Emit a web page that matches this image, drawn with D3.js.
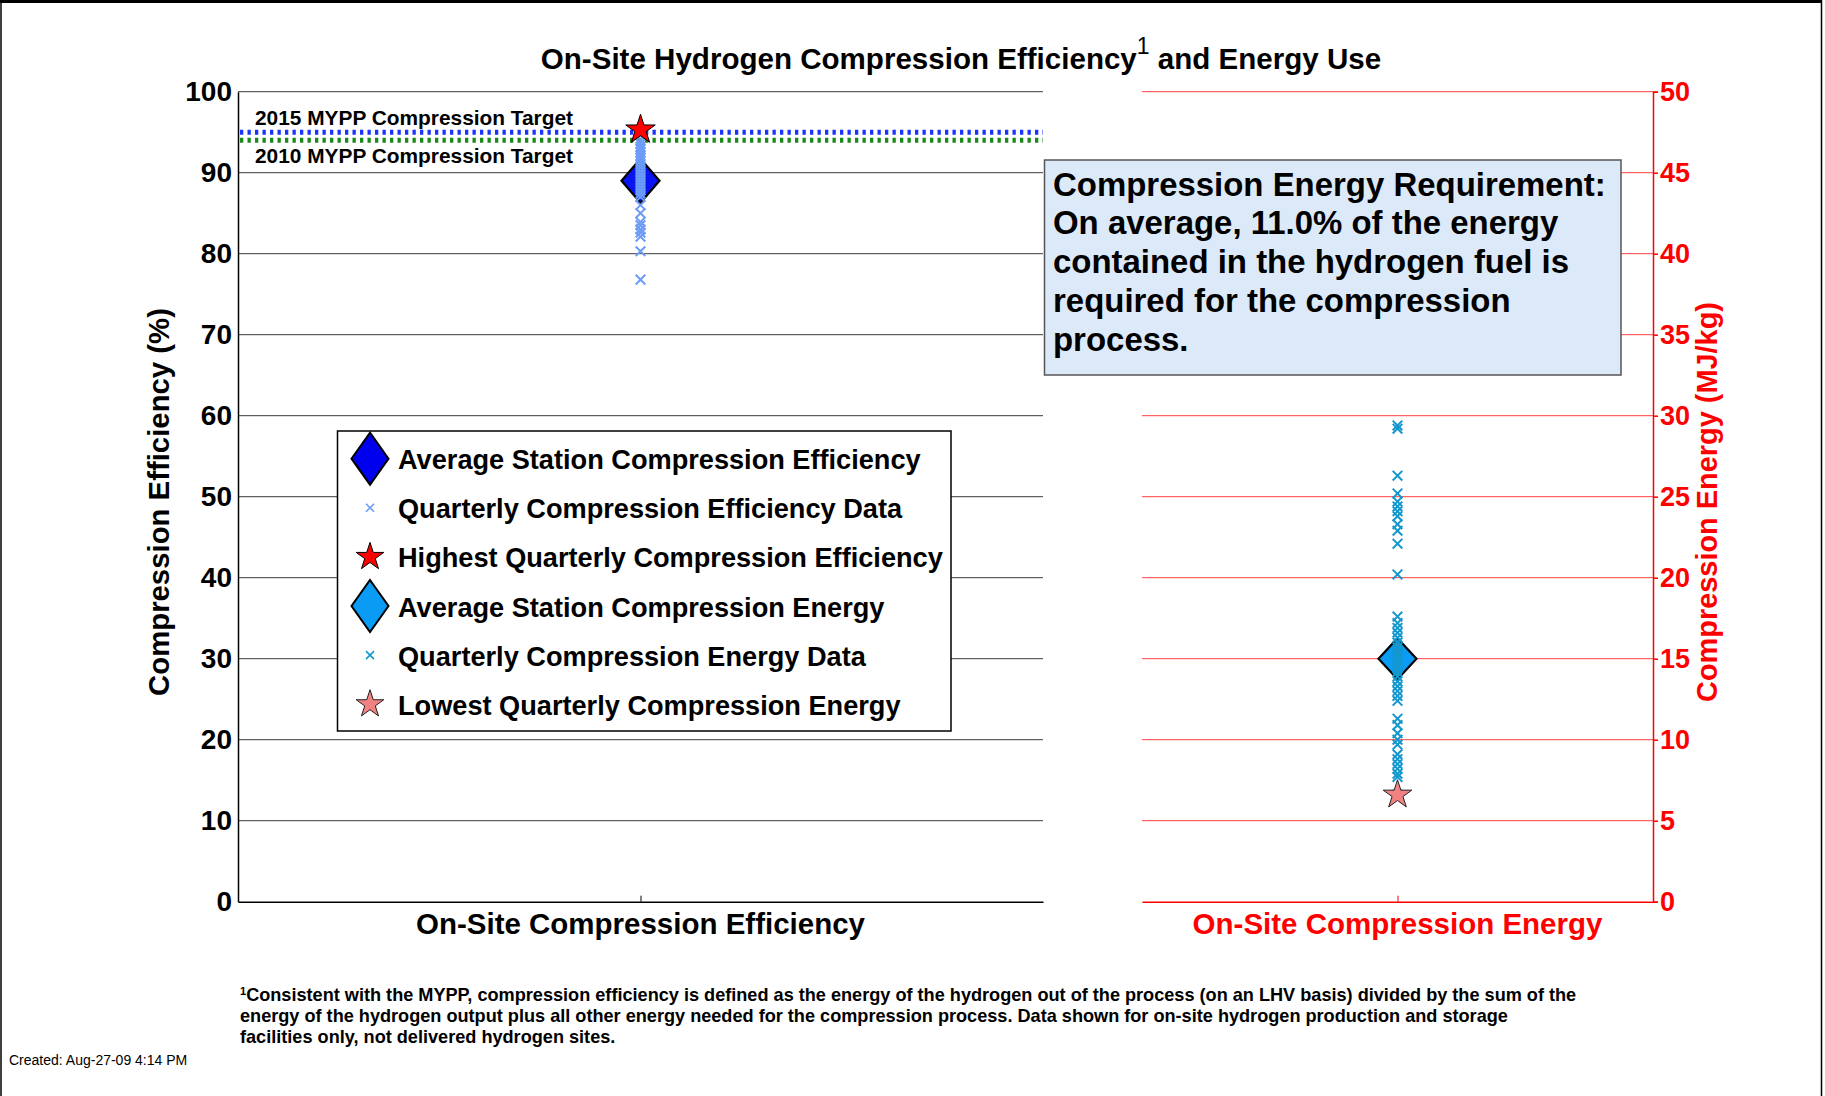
<!DOCTYPE html>
<html>
<head>
<meta charset="utf-8">
<script src="https://cdn.jsdelivr.net/npm/d3@7"></script>
<style>
  html, body { margin: 0; padding: 0; background: #ffffff; }
  svg { display: block; }
  text { font-family: "Liberation Sans", Arial, sans-serif; }
</style>
</head>
<body>
<script>
// ---- Data ----
const categories = ["On-Site Compression Efficiency", "On-Site Compression Energy"];
const efficiencyTicks = [0, 10, 20, 30, 40, 50, 60, 70, 80, 90, 100];
const energyTicks = [0, 5, 10, 15, 20, 25, 30, 35, 40, 45, 50];

// Compression efficiency (%), one value per station-quarter
const efficiencyQuarterly = [95.3, 94.6, 94.0, 93.6, 93.2, 92.9, 92.5, 92.1, 91.8, 91.4, 91.0, 90.6,
  90.2, 89.8, 89.4, 89.0, 88.6, 88.2, 87.8, 87.4, 87.0, 86.0, 85.0, 83.9, 83.5, 83.0, 82.6, 82.1,
  80.3, 76.8];
const efficiencyAverage = 89.0;
const efficiencyHighest = 95.3;

// Compression energy (MJ/kg), one value per station-quarter
const energyQuarterly = [29.4, 29.2, 26.3, 25.2, 24.7, 24.4, 24.1, 23.8, 23.3, 22.9, 22.1, 20.2,
  17.6, 17.2, 16.9, 16.6, 16.3, 16.0, 15.7, 15.4, 15.1, 14.8, 14.5, 14.2, 13.9, 13.6, 13.3, 13.0,
  12.7, 12.4, 11.3, 10.9, 10.4, 10.0, 9.7, 9.1, 8.8, 8.5, 8.2, 7.9, 7.7, 6.6];
const energyAverage = 15.0;
const energyLowest = 6.6;

const targetLabels = ["2015 MYPP Compression Target", "2010 MYPP Compression Target"];
const targetValues = [95, 94];

const legendLabels = [
  "Average Station Compression Efficiency",
  "Quarterly Compression Efficiency Data",
  "Highest Quarterly Compression Efficiency",
  "Average Station Compression Energy",
  "Quarterly Compression Energy Data",
  "Lowest Quarterly Compression Energy"
];

const noteLines = [
  "Compression Energy Requirement:",
  "On average, 11.0% of the energy",
  "contained in the hydrogen fuel is",
  "required for the compression",
  "process."
];

const footnoteLines = [
  "Consistent with the MYPP, compression efficiency is defined as the energy of the hydrogen out of the process (on an LHV basis) divided by the sum of the",
  "energy of the hydrogen output plus all other energy needed for the compression process.  Data shown for on-site hydrogen production and storage",
  "facilities only, not delivered hydrogen sites."
];
const createdStamp = "Created: Aug-27-09  4:14 PM";

// ---- Layout ----
const W = 1825, H = 1096;
const plot = { left: 238, effRight: 1043, enLeft: 1142, right: 1653, top: 91.7, bottom: 901.7 };

const colors = {
  effAvg: "#0a14f0", effX: "#6b9cf7", high: "#ff0000",
  enAvg: "#0a9cf5", enX: "#1497cc", low: "#f28282",
  target2015: "#1a33ff", target2010: "#1b8a1b",
  red: "#ff0000", redGrid: "#ff4040", grid: "#3a3a3a",
  noteFill: "#dce9f8", noteStroke: "#555555"
};

const svg = d3.select("body").append("svg").attr("width", W).attr("height", H);

// Scale a text element so its rendered width equals a target width
function fitWidth(sel, target) {
  const node = sel.node();
  const fs = parseFloat(sel.attr("font-size"));
  const w = node.getComputedTextLength();
  if (w > 0) sel.attr("font-size", (fs * target / w).toFixed(2));
  return sel;
}

const yEff = d3.scaleLinear().domain([0, 100]).range([plot.bottom, plot.top]);
const yEn = d3.scaleLinear().domain([0, 50]).range([plot.bottom, plot.top]);
const xEff = d3.scalePoint().domain([categories[0]]).range([plot.left, plot.effRight]).padding(0.5);
const xEn = d3.scalePoint().domain([categories[1]]).range([plot.enLeft, plot.right]).padding(0.5);

// Page frame
svg.append("line").attr("x1", 0).attr("x2", 1822).attr("y1", 1.5).attr("y2", 1.5)
  .attr("stroke", "#000").attr("stroke-width", 3);
svg.append("line").attr("x1", 1).attr("x2", 1).attr("y1", 0).attr("y2", H)
  .attr("stroke", "#000").attr("stroke-width", 1.5);
svg.append("line").attr("x1", 1821.5).attr("x2", 1821.5).attr("y1", 0).attr("y2", H)
  .attr("stroke", "#000").attr("stroke-width", 1.5);

// Title with superscript
const title = svg.append("text").attr("x", 961).attr("y", 68.5).attr("text-anchor", "middle")
  .attr("font-size", 27).attr("font-weight", "bold").attr("fill", "#000");
title.append("tspan").text("On-Site Hydrogen Compression Efficiency");
const titleSup = title.append("tspan").attr("dy", -15).attr("font-weight", "normal").text("1");
title.append("tspan").attr("dy", 15).text(" and Energy Use");
fitWidth(title, 844);
titleSup.attr("font-size", (parseFloat(title.attr("font-size")) * 0.78).toFixed(2));

// Grid lines: efficiency panel (black) and energy panel (red)
svg.append("g").selectAll("line").data(efficiencyTicks.filter(d => d > 0)).join("line")
  .attr("x1", plot.left).attr("x2", plot.effRight)
  .attr("y1", d => yEff(d)).attr("y2", d => yEff(d))
  .attr("stroke", colors.grid).attr("stroke-width", 1);
svg.append("g").selectAll("line").data(energyTicks.filter(d => d > 0)).join("line")
  .attr("x1", plot.enLeft).attr("x2", plot.right)
  .attr("y1", d => yEn(d)).attr("y2", d => yEn(d))
  .attr("stroke", colors.redGrid).attr("stroke-width", 1);

// Left axis
const leftAxis = svg.append("g").attr("transform", `translate(${plot.left},0)`)
  .call(d3.axisLeft(yEff).tickValues(efficiencyTicks).tickSize(0).tickPadding(6));
leftAxis.select(".domain").attr("stroke", "#000").attr("stroke-width", 1.5);
leftAxis.selectAll("text").attr("font-size", 28).attr("font-weight", "bold")
  .attr("font-family", "Liberation Sans, Arial, sans-serif").attr("fill", "#000");

// Right axis
const rightAxis = svg.append("g").attr("transform", `translate(${plot.right},0)`)
  .call(d3.axisRight(yEn).tickValues(energyTicks).tickSize(5).tickPadding(2));
rightAxis.select(".domain").attr("stroke", colors.red).attr("stroke-width", 1.5);
rightAxis.selectAll(".tick line").attr("stroke", colors.red).attr("stroke-width", 1.5);
rightAxis.selectAll("text").attr("font-size", 27).attr("font-weight", "bold")
  .attr("font-family", "Liberation Sans, Arial, sans-serif").attr("fill", colors.red);

// Bottom axes per panel
const bottomEff = svg.append("g").attr("transform", `translate(0,${plot.bottom})`)
  .call(d3.axisBottom(xEff).tickSizeInner(-6).tickSizeOuter(0).tickFormat(""));
bottomEff.select(".domain").attr("stroke", "#000").attr("stroke-width", 1.5);
bottomEff.selectAll(".tick line").attr("stroke", "#000");
const bottomEn = svg.append("g").attr("transform", `translate(0,${plot.bottom})`)
  .call(d3.axisBottom(xEn).tickSizeInner(-6).tickSizeOuter(0).tickFormat(""));
bottomEn.select(".domain").attr("stroke", colors.red).attr("stroke-width", 1.5);
bottomEn.selectAll(".tick line").attr("stroke", colors.red);

// Category labels
fitWidth(svg.append("text").attr("x", xEff(categories[0])).attr("y", 933.5).attr("text-anchor", "middle")
  .attr("font-size", 27).attr("font-weight", "bold").attr("fill", "#000").text(categories[0]), 449);
fitWidth(svg.append("text").attr("x", xEn(categories[1])).attr("y", 933.5).attr("text-anchor", "middle")
  .attr("font-size", 27).attr("font-weight", "bold").attr("fill", colors.red).text(categories[1]), 410);

// Axis titles
fitWidth(svg.append("text").attr("transform", `translate(169,502) rotate(-90)`).attr("text-anchor", "middle")
  .attr("font-size", 26).attr("font-weight", "bold").attr("fill", "#000").text("Compression Efficiency (%)"), 388);
fitWidth(svg.append("text").attr("transform", `translate(1717,502) rotate(-90)`).attr("text-anchor", "middle")
  .attr("font-size", 26).attr("font-weight", "bold").attr("fill", colors.red).text("Compression Energy (MJ/kg)"), 400);

// Target lines
const targetColors = [colors.target2015, colors.target2010];
svg.append("g").selectAll("line").data(targetValues).join("line")
  .attr("x1", plot.left + 2).attr("x2", plot.effRight)
  .attr("y1", d => yEff(d)).attr("y2", d => yEff(d))
  .attr("stroke", (d, i) => targetColors[i]).attr("stroke-width", 5)
  .attr("stroke-dasharray", "3.3,4.2");
const tLabelOffsets = [-7, 23];
svg.append("g").selectAll("text").data(targetLabels).join("text")
  .attr("x", 255).attr("y", (d, i) => yEff(targetValues[i]) + tLabelOffsets[i])
  .attr("font-size", 18.5).attr("font-weight", "bold").attr("fill", "#000").text(d => d)
  .each(function () { fitWidth(d3.select(this), 318); });

// Marker shapes
const diamondPath = (hw, hh) => `M0,${-hh}L${hw},0L0,${hh}L${-hw},0Z`;
const xPath = r => `M${-r},${-r}L${r},${r}M${-r},${r}L${r},${-r}`;
const starPath = r => d3.symbol(d3.symbolStar, r * r / 0.8908130915292852)();

// Efficiency markers
const cx1 = xEff(categories[0]);
svg.append("path").attr("d", diamondPath(19, 22))
  .attr("transform", `translate(${cx1},${yEff(efficiencyAverage)})`)
  .attr("fill", colors.effAvg).attr("stroke", "#000").attr("stroke-width", 2.2);
svg.append("g").selectAll("path").data(efficiencyQuarterly).join("path")
  .attr("d", xPath(4.8)).attr("transform", d => `translate(${cx1},${yEff(d)})`)
  .attr("fill", "none").attr("stroke", colors.effX).attr("stroke-width", 2);
svg.append("path").attr("d", starPath(15.5))
  .attr("transform", `translate(${cx1},${yEff(efficiencyHighest)})`)
  .attr("fill", colors.high).attr("stroke", "#000").attr("stroke-width", 1);

// Energy markers
const cx2 = xEn(categories[1]);
svg.append("path").attr("d", diamondPath(19, 20.5))
  .attr("transform", `translate(${cx2},${yEn(energyAverage)})`)
  .attr("fill", colors.enAvg).attr("stroke", "#000").attr("stroke-width", 2.2);
svg.append("g").selectAll("path").data(energyQuarterly).join("path")
  .attr("d", xPath(4.8)).attr("transform", d => `translate(${cx2},${yEn(d)})`)
  .attr("fill", "none").attr("stroke", colors.enX).attr("stroke-width", 2);
svg.append("path").attr("d", starPath(15))
  .attr("transform", `translate(${cx2},${yEn(energyLowest)})`)
  .attr("fill", colors.low).attr("stroke", "#222").attr("stroke-width", 1);

// Note box
const note = svg.append("g");
note.append("rect").attr("x", 1044.5).attr("y", 160).attr("width", 576.5).attr("height", 215)
  .attr("fill", colors.noteFill).attr("stroke", colors.noteStroke).attr("stroke-width", 1.5);
const noteText = note.selectAll("text").data(noteLines).join("text")
  .attr("x", 1053).attr("y", (d, i) => 195.5 + i * 38.9)
  .attr("font-size", 30).attr("font-weight", "bold").attr("fill", "#000").text(d => d);
{
  const first = noteText.filter((d, i) => i === 0);
  fitWidth(first, 553);
  noteText.attr("font-size", first.attr("font-size"));
}

// Legend
const legend = svg.append("g");
legend.append("rect").attr("x", 337.5).attr("y", 431).attr("width", 613.5).attr("height", 300)
  .attr("fill", "#fff").attr("stroke", "#000").attr("stroke-width", 1.5);
const rowY = i => 459.7 + i * 49.1;
const mx = 370;
const legendMarks = [
  g => g.append("path").attr("d", diamondPath(18.5, 26)).attr("fill", "#0000ee").attr("stroke", "#000").attr("stroke-width", 2),
  g => g.append("path").attr("d", xPath(4)).attr("fill", "none").attr("stroke", colors.effX).attr("stroke-width", 1.6),
  g => g.append("path").attr("d", starPath(14.5)).attr("fill", colors.high).attr("stroke", "#000").attr("stroke-width", 1),
  g => g.append("path").attr("d", diamondPath(18.5, 26)).attr("fill", colors.enAvg).attr("stroke", "#000").attr("stroke-width", 2),
  g => g.append("path").attr("d", xPath(4)).attr("fill", "none").attr("stroke", colors.enX).attr("stroke-width", 1.6),
  g => g.append("path").attr("d", starPath(14.5)).attr("fill", colors.low).attr("stroke", "#222").attr("stroke-width", 1)
];
legendLabels.forEach((lab, i) => {
  const g = legend.append("g").attr("transform", `translate(${mx},${rowY(i) - 1})`);
  legendMarks[i](g);
});
const legendText = legend.selectAll("text").data(legendLabels).join("text")
  .attr("x", 398).attr("y", (d, i) => rowY(i) + 9.5)
  .attr("font-size", 26).attr("font-weight", "bold").attr("fill", "#000").text(d => d);
{
  const longest = legendText.filter((d, i) => i === 2);
  fitWidth(longest, 545);
  legendText.attr("font-size", longest.attr("font-size"));
}

// Footnote
const footFont = "'Liberation Sans Narrow', 'Arial Narrow', 'Liberation Sans', sans-serif";
const foot = svg.append("g").attr("font-family", footFont).attr("font-weight", "bold").attr("fill", "#000");
const f0 = foot.append("text").attr("x", 240).attr("y", 1001).attr("font-size", 17).attr("font-family", footFont);
f0.append("tspan").attr("dy", -6).attr("font-size", 11).text("1");
f0.append("tspan").attr("dy", 6).text(footnoteLines[0]);
const fRest = foot.selectAll("text.rest").data(footnoteLines.slice(1)).join("text").attr("class", "rest")
  .attr("x", 240).attr("y", (d, i) => 1022 + i * 21).attr("font-size", 17).attr("font-family", footFont).text(d => d);
{
  const fs0 = 17, w0 = f0.node().getComputedTextLength();
  const fs = fs0 * 1337 / w0;
  f0.attr("font-size", fs);
  fRest.attr("font-size", fs);
}
svg.append("text").attr("x", 9).attr("y", 1065).attr("font-size", 14)
  .attr("font-family", footFont).attr("fill", "#000").text(createdStamp);
</script>
</body>
</html>
